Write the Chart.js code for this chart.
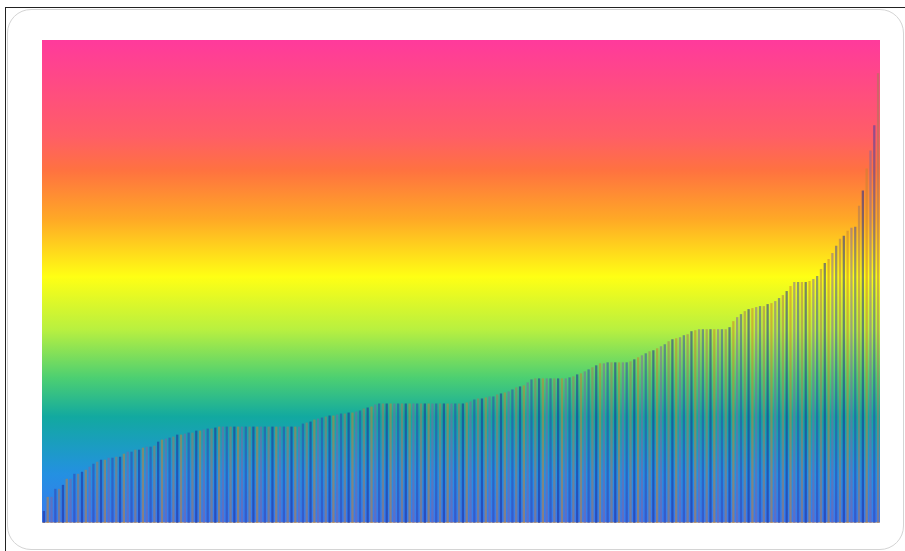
<!DOCTYPE html>
<html>
<head>
<meta charset="utf-8">
<script src="https://cdn.jsdelivr.net/npm/chart.js@4/dist/chart.umd.min.js"></script>
<style>
    body { margin: 0; background: #fff; width: 905px; height: 551px; overflow: hidden; position: relative; }
    .frame { position: absolute; left: 5px; top: 7px; width: 960px; height: 600px; border-top: 1px solid #222; border-left: 1px solid #222; }
    .card { position: absolute; left: 7px; top: 9px; width: 895px; height: 539px; border: 1px solid #d4d4d4; border-radius: 24px; background: #fff; }
    .graph-section { position: absolute; left: 42px; top: 40px; width: 838px; height: 483px; }
</style>
</head>
<body>
<div class="frame"></div>
<div class="card"></div>
<div class="graph-section">
    <canvas id="sortedBarsChart" width="838" height="483"></canvas>
</div>
<script>
// bar heights, sorted ascending
const barValues = [
    12, 26, 26, 34, 34, 38, 44, 44, 49, 49,
    51, 53, 56, 59, 61, 63, 63, 65, 65, 66,
    66, 69, 71, 71, 73, 73, 75, 76, 76, 77,
    81, 83, 84, 85, 86, 88, 88, 89, 90, 90,
    92, 92, 93, 94, 94, 95, 96, 96, 96, 96,
    96, 96, 96, 96, 96, 96, 96, 96, 96, 96,
    96, 96, 96, 96, 96, 96, 96, 96, 99, 100,
    101, 103, 104, 105, 106, 107, 107, 108, 109, 109,
    110, 110, 111, 112, 114, 115, 116, 118, 119, 119,
    119, 119, 119, 119, 119, 119, 119, 119, 119, 119,
    119, 119, 119, 119, 119, 119, 119, 119, 119, 119,
    119, 120, 121, 123, 124, 124, 125, 126, 126, 128,
    129, 130, 131, 133, 135, 136, 137, 140, 143, 144,
    144, 144, 144, 144, 144, 144, 144, 144, 145, 146,
    148, 149, 151, 153, 155, 157, 159, 159, 160, 160,
    160, 160, 160, 160, 161, 163, 165, 167, 169, 171,
    172, 174, 176, 178, 181, 183, 184, 185, 187, 188,
    191, 192, 193, 193, 193, 193, 193, 193, 193, 193,
    195, 201, 205, 208, 211, 213, 214, 215, 216, 216,
    218, 219, 221, 224, 227, 231, 236, 240, 240, 240,
    240, 241, 243, 246, 253, 259, 263, 269, 276, 283,
    286, 291, 294, 295, 316, 331, 353, 371, 396, 448
];
const barLabels = barValues.map((_, i) => String(i + 1));
const yMax = 481;

// stripe colours the bars cycle through
const barColors = [
    'rgba(30, 40, 150, 0.55)',
    'rgba(200, 130, 50, 0.55)',
    'rgba(130, 100, 160, 0.55)',
    'rgba(50, 60, 170, 0.50)',
    'rgba(170, 120, 90, 0.55)'
];

// background gradient stops, top to bottom
const bgStops = [
    [0.00, '#ff3a9c'],
    [0.20, '#ff5e66'],
    [0.27, '#ff7240'],
    [0.37, '#ffa826'],
    [0.49, '#ffff14'],
    [0.60, '#b8f040'],
    [0.70, '#4ccf72'],
    [0.78, '#12a9a0'],
    [0.90, '#2490e2'],
    [1.00, '#3a78ee']
];

const plotBackground = {
    id: 'plotBackground',
    beforeDraw(chart) {
        const { ctx, chartArea } = chart;
        const grad = ctx.createLinearGradient(0, chartArea.top, 0, chartArea.bottom);
        bgStops.forEach(([stop, color]) => grad.addColorStop(stop, color));
        ctx.save();
        ctx.fillStyle = grad;
        ctx.fillRect(chartArea.left, chartArea.top, chartArea.right - chartArea.left, chartArea.bottom - chartArea.top);
        ctx.restore();
    }
};

const ctx = document.getElementById('sortedBarsChart').getContext('2d');
new Chart(ctx, {
    type: 'bar',
    data: {
        labels: barLabels,
        datasets: [{
            data: barValues,
            backgroundColor: barValues.map((_, i) => barColors[i % barColors.length]),
            borderWidth: 0,
            barPercentage: 0.6,
            categoryPercentage: 1
        }]
    },
    options: {
        responsive: false,
        animation: false,
        layout: { padding: 0 },
        plugins: {
            legend: { display: false },
            tooltip: { enabled: false }
        },
        scales: {
            x: {
                ticks: { display: false },
                grid: { display: false, drawTicks: false },
                border: { display: true, color: '#b0b0b0', width: 1.5 }
            },
            y: {
                display: false,
                min: 0,
                max: yMax
            }
        }
    },
    plugins: [plotBackground]
});
</script>
</body>
</html>
